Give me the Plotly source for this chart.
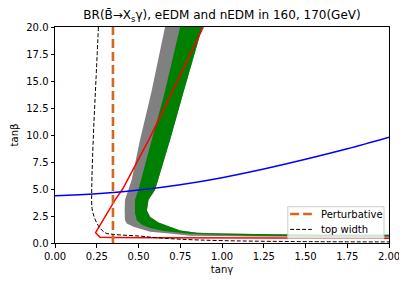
import plotly.graph_objects as go

# --- data ---
gray_left_x = [0.659, 0.576, 0.509, 0.459, 0.439, 0.419, 0.417, 0.419, 0.43, 0.47, 0.57, 0.70, 0.81, 1.2, 1.6, 2.0]
gray_left_y = [20.0, 13.9, 9.54, 5.83, 4.9, 4.0, 3.0, 2.1, 1.8, 1.5, 1.05, 0.85, 0.68, 0.6, 0.56, 0.54]

green_left_x = [0.749, 0.653, 0.579, 0.499, 0.479, 0.479, 0.49, 0.52, 0.569, 0.65, 0.81, 1.17, 1.6, 2.0]
green_left_y = [20.0, 13.7, 9.54, 4.9, 4.0, 2.75, 2.1, 1.7, 1.4, 1.1, 0.85, 0.66, 0.63, 0.62]
green_right_x = [0.882, 0.768, 0.689, 0.599, 0.56, 0.55, 0.57, 0.62, 0.68, 0.75, 0.85, 1.0, 1.3, 1.6, 2.0]
green_right_y = [20.0, 13.9, 9.54, 4.9, 4.0, 3.0, 2.4, 1.9, 1.55, 1.15, 0.95, 0.87, 0.8, 0.77, 0.76]

red_x = [0.888, 0.79, 0.71, 0.64, 0.56, 0.47, 0.405, 0.36, 0.30, 0.25, 0.243, 0.27, 0.35, 0.6, 1.0, 1.5, 2.0]
red_y = [20.0, 16.8, 14.2, 12.0, 9.5, 6.8, 5.0, 4.0, 2.5, 1.2, 0.95, 0.53, 0.5, 0.49, 0.48, 0.46, 0.45]

blue_x = [0.0, 0.25, 0.5, 0.75, 1.0, 1.25, 1.5, 1.75, 2.0]
blue_y = [4.38, 4.55, 4.9, 5.4, 6.05, 6.85, 7.75, 8.72, 9.8]

top_x = [0.26, 0.245, 0.23, 0.22, 0.222, 0.235, 0.26, 0.30, 0.35, 0.5, 0.6, 0.75, 1.0, 1.4, 2.0]
top_y = [20.0, 15.0, 10.0, 5.0, 3.2, 2.4, 1.6, 0.95, 0.8, 0.65, 0.5, 0.35, 0.22, 0.14, 0.1]

pert_x = [0.347, 0.347]
pert_y = [0.0, 20.0]

legend_labels = ["Perturbative", "top width"]

x_ticks = [0, 0.25, 0.5, 0.75, 1.0, 1.25, 1.5, 1.75, 2.0]
x_tick_text = ["0.00", "0.25", "0.50", "0.75", "1.00", "1.25", "1.50", "1.75", "2.00"]
y_ticks = [0, 2.5, 5, 7.5, 10, 12.5, 15, 17.5, 20]
y_tick_text = ["0.0", "2.5", "5.0", "7.5", "10.0", "12.5", "15.0", "17.5", "20.0"]

PERT_STYLE = dict(color="#d2691e", width=2.6, dash="9px,4px")
TOP_STYLE = dict(color="#000000", width=1, dash="4px,2px")

fig = go.Figure()

fig.add_trace(go.Scatter(
    x=gray_left_x + green_right_x[::-1], y=gray_left_y + green_right_y[::-1],
    fill="toself", fillcolor="#808080", mode="none", showlegend=False, hoverinfo="skip"))
fig.add_trace(go.Scatter(
    x=green_left_x + green_right_x[::-1], y=green_left_y + green_right_y[::-1],
    fill="toself", fillcolor="#008000", mode="none", showlegend=False, hoverinfo="skip"))

fig.add_trace(go.Scatter(x=red_x, y=red_y, mode="lines",
                         line=dict(color="#ff0000", width=1.5), showlegend=False))
fig.add_trace(go.Scatter(x=blue_x, y=blue_y, mode="lines", line_shape="spline",
                         line=dict(color="#0000ff", width=1.5), showlegend=False))
fig.add_trace(go.Scatter(x=pert_x, y=pert_y, mode="lines", name=legend_labels[0],
                         line=PERT_STYLE, showlegend=False))
fig.add_trace(go.Scatter(x=top_x, y=top_y, mode="lines", name=legend_labels[1], line_shape="spline",
                         line=TOP_STYLE, showlegend=False))

font_family = "DejaVu Sans"

# compact matplotlib-style legend box (paper coordinates of the plot area)
box = dict(x0=0.697, x1=0.985, y0=0.022, y1=0.168)
rows_y = [0.134, 0.063]
styles = [PERT_STYLE, TOP_STYLE]
shapes = [dict(type="rect", xref="paper", yref="paper", layer="above",
               x0=box["x0"], x1=box["x1"], y0=box["y0"], y1=box["y1"],
               fillcolor="rgba(255,255,255,0.8)", line=dict(color="#cccccc", width=1))]
annotations = []
for label, ry, st in zip(legend_labels, rows_y, styles):
    shapes.append(dict(type="line", xref="paper", yref="paper", layer="above",
                       x0=0.704, x1=0.769, y0=ry, y1=ry, line=st))
    annotations.append(dict(text=label, xref="paper", yref="paper", x=0.79, y=ry,
                            xanchor="left", yanchor="middle", showarrow=False,
                            font=dict(family=font_family, size=10, color="black")))

# page body has an 8px default margin, so the figure is shrunk/offset to compensate
fig.update_layout(
    width=399, height=278,
    margin=dict(l=47, r=18, t=19, b=43, autoexpand=False),
    paper_bgcolor="white", plot_bgcolor="white",
    font=dict(family=font_family, size=10, color="black"),
    showlegend=False,
    shapes=shapes, annotations=annotations,
    title=dict(text="BR(B\u0304→X<sub>s</sub>γ), eEDM and nEDM in 160, 170(GeV)",
               x=(47 + 381) / 2 / 399, xanchor="center", y=1 - 7 / 278, yanchor="middle",
               font=dict(family=font_family, size=12, color="black")),
    xaxis=dict(range=[0, 2], tickvals=x_ticks, ticktext=x_tick_text, automargin=False,
               showgrid=False, zeroline=False, showline=True, linecolor="black", linewidth=1,
               mirror=True, ticks="outside", ticklen=3.5, tickcolor="black",
               title=dict(text="tanγ", font=dict(size=10), standoff=5)),
    yaxis=dict(range=[0, 20], tickvals=y_ticks, ticktext=y_tick_text, automargin=False,
               showgrid=False, zeroline=False, showline=True, linecolor="black", linewidth=1,
               mirror=True, ticks="outside", ticklen=3.5, tickcolor="black",
               title=dict(text="tanβ", font=dict(size=10), standoff=5)),
)

fig.write_html("out.html")
